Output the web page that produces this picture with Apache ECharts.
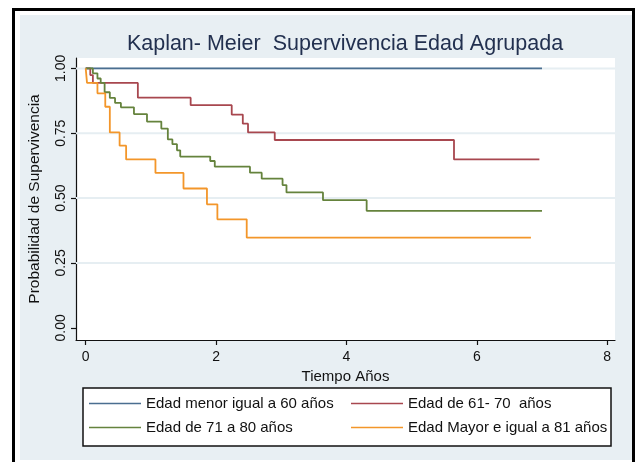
<!DOCTYPE html>
<html><head><meta charset="utf-8">
<script src="https://cdn.jsdelivr.net/npm/echarts@6/dist/echarts.min.js"></script>
<style>html,body{margin:0;padding:0;background:#fff}#c{width:636px;height:462px}</style>
</head><body><div id="c"></div>
<script>
const titleText = 'Kaplan- Meier  Supervivencia Edad Agrupada';
const seriesNames = ['Edad menor igual a 60 años', 'Edad de 61- 70  años', 'Edad de 71 a 80 años', 'Edad Mayor e igual a 81 años'];
const seriesColors = ['#4a6e90', '#a8474f', '#65833d', '#f3962a'];

const blueT = [0, 7.0];
const blueS = [1, 1];
const redT = [0, 0.07, 0.11, 0.80, 1.61, 2.24, 2.41, 2.49, 2.90, 5.65, 6.96];
const redS = [1, 0.974, 0.944, 0.887, 0.858, 0.822, 0.787, 0.753, 0.724, 0.649, 0.649];
const greenT = [0, 0.11, 0.18, 0.23, 0.29, 0.37, 0.45, 0.54, 0.74, 0.94, 1.16, 1.26, 1.33, 1.40, 1.45, 1.91, 1.98, 2.52, 2.70, 3.02, 3.08, 3.64, 4.31, 7.0];
const greenS = [1, 0.981, 0.961, 0.944, 0.908, 0.886, 0.867, 0.850, 0.824, 0.795, 0.768, 0.726, 0.708, 0.684, 0.660, 0.643, 0.621, 0.598, 0.575, 0.550, 0.522, 0.492, 0.451, 0.451];
const orangeT = [0, 0.02, 0.18, 0.30, 0.37, 0.52, 0.62, 1.07, 1.50, 1.86, 2.02, 2.47, 6.83];
const orangeS = [1, 0.944, 0.904, 0.852, 0.753, 0.702, 0.649, 0.597, 0.537, 0.476, 0.418, 0.348, 0.348];

const yTicks = [0, 0.25, 0.5, 0.75, 1];
const yGrid = [0.25, 0.5, 0.75, 1];
const xTicks = [0, 2, 4, 6, 8];
const xTitle = 'Tiempo Años';
const yTitle = 'Probabilidad de Supervivencia';

const X_MIN = -0.149, X_MAX = 8.12, Y_MIN = -0.047, Y_MAX = 1.040;

const allT = [blueT, redT, greenT, orangeT];
const allS = [blueS, redS, greenS, orangeS];

const FONT = 'Liberation Sans, Arial, sans-serif';
const chart = echarts.init(document.getElementById('c'), null, {renderer: 'canvas'});

const gridSeries = yGrid.map(v => ({
  name: 'grid' + v, type: 'line', z: 1, silent: true, showSymbol: false, symbol: 'none',
  lineStyle: {color: '#e6eef2', width: 2},
  data: [[X_MIN, v], [X_MAX, v]]
}));
const kmSeries = allT.map((ts, i) => ({
  name: seriesNames[i],
  type: 'line',
  step: 'end',
  showSymbol: false,
  symbol: 'none',
  z: 5,
  lineStyle: {color: seriesColors[i], width: 1.8},
  itemStyle: {color: seriesColors[i]},
  data: ts.map((t, j) => [t, allS[i][j]])
}));

const legendPos = [[89, 404], [351, 404], [89, 428], [351, 428]];
const legends = seriesNames.map((n, i) => ({
  data: [n], left: legendPos[i][0], top: legendPos[i][1] - 8, padding: 0,
  icon: 'rect', itemWidth: 52, itemHeight: 1.6, itemGap: 0, selectedMode: false,
  textStyle: {fontFamily: FONT, fontSize: 15, color: '#111'}
}));

chart.setOption({
  animation: false,
  backgroundColor: '#ffffff',
  title: {
    text: titleText, left: 345, top: 33, textAlign: 'center', padding: 0,
    textStyle: {fontFamily: FONT, fontSize: 21.5, fontWeight: 'normal', color: '#22304f'}
  },
  graphic: [
    {type: 'rect', z: -10, shape: {x: 13.5, y: 9.5, width: 620, height: 460}, style: {fill: '#ffffff', stroke: '#000', lineWidth: 3}},
    {type: 'rect', z: -9, shape: {x: 20, y: 15, width: 612, height: 445}, style: {fill: '#e8eff3'}},
    {type: 'rect', z: -8, shape: {x: 83, y: 388, width: 528, height: 58}, style: {fill: '#ffffff', stroke: '#111', lineWidth: 1.5}}
  ],
  legend: legends,
  grid: {left: 76, right: 21, top: 58, bottom: 122, show: true, backgroundColor: '#ffffff', borderWidth: 0, containLabel: false},
  xAxis: {
    type: 'value', min: X_MIN, max: X_MAX,
    name: xTitle, nameLocation: 'middle', nameGap: 20,
    nameTextStyle: {fontFamily: FONT, fontSize: 15, color: '#111'},
    axisLine: {onZero: false, lineStyle: {color: '#111', width: 1.2}},
    axisTick: {customValues: xTicks, length: 5, lineStyle: {color: '#111', width: 1.2}},
    axisLabel: {customValues: xTicks, fontFamily: FONT, fontSize: 14, color: '#111', margin: 10},
    splitLine: {show: false}
  },
  yAxis: {
    type: 'value', min: Y_MIN, max: Y_MAX,
    name: yTitle, nameLocation: 'middle', nameGap: 33,
    nameTextStyle: {fontFamily: FONT, fontSize: 15.5, color: '#111'},
    axisLine: {onZero: false, lineStyle: {color: '#111', width: 1.2}},
    axisTick: {customValues: yTicks, length: 5, lineStyle: {color: '#111', width: 1.2}},
    axisLabel: {customValues: yTicks, rotate: 90, fontFamily: FONT, fontSize: 14, color: '#111', margin: 8,
      formatter: v => v.toFixed(2)},
    splitLine: {show: false}
  },
  series: gridSeries.concat(kmSeries)
});
</script></body></html>
